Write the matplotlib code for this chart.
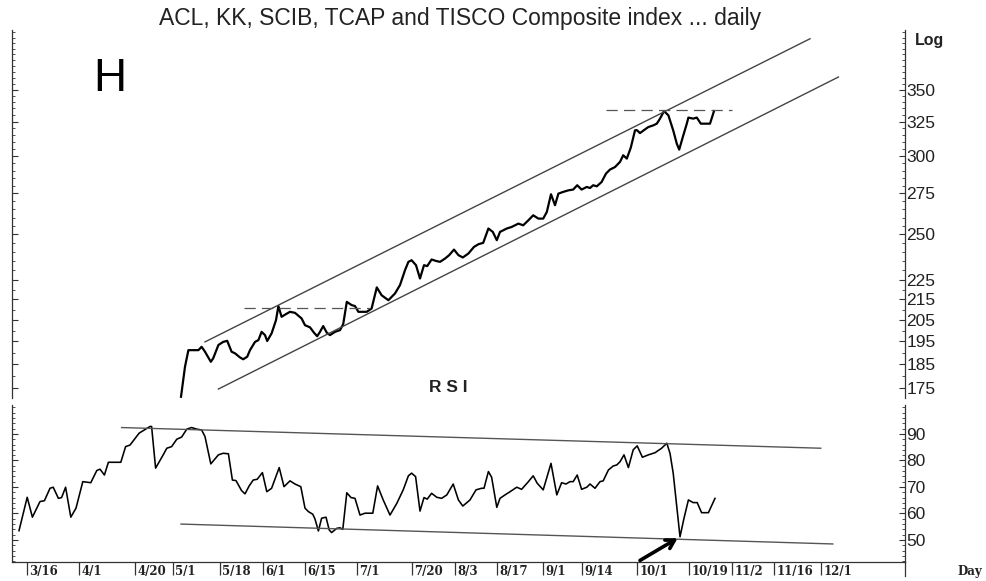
import matplotlib
matplotlib.use("Agg")
import matplotlib.pyplot as plt
from matplotlib.ticker import FixedLocator, NullFormatter

plt.rcParams['font.family'] = ['Liberation Sans', 'DejaVu Sans']

# trading-day index on the x axis (shared by both panels)
date_pos = [3.75, 16.75, 30.75, 40.25, 52.0, 62.75, 73.25, 86.25, 100.0, 110.75,
            121.25, 132.75, 142.5, 156.25, 169.25, 180.0, 190.5, 202.25]
date_labels = ['3/16', '4/1', '4/20', '5/1', '5/18', '6/1', '6/15', '7/1', '7/20', '8/3',
               '8/17', '9/1', '9/14', '10/1', '10/19', '11/2', '11/16', '12/1']

# composite index (log scale)
price_day = [42.25, 43.25, 44.1, 45.75, 46.6, 47.4, 48.25, 49.7, 50.3, 51.6,
             52.8, 53.8, 54.9, 55.75, 57.0, 57.8, 58.8, 59.5, 60.75, 61.6,
             62.4, 63.25, 63.8, 64.9, 66.0, 66.6, 67.4, 68.5, 69.5, 70.75,
             72.4, 73.25, 74.5, 75.5, 76.3, 77.0, 77.8, 78.7, 79.5, 80.75,
             82.0, 82.8, 83.7, 84.9, 85.75, 86.6, 88.7, 89.9, 91.2, 92.4,
             94.1, 95.75, 97.0, 98.25, 99.1, 99.9, 101.0, 102.0, 103.0, 103.8,
             104.9, 106.0, 107.0, 108.25, 109.3, 110.5, 111.6, 112.7, 114.1, 115.5,
             116.6, 117.8, 119.1, 120.2, 121.2, 122.0, 123.7, 124.9, 126.6, 127.8,
             129.1, 130.3, 131.6, 132.8, 133.7, 134.75, 135.75, 136.6, 137.8, 139.1,
             140.3, 141.3, 142.4, 143.7, 144.5, 145.3, 146.2, 147.4, 148.5, 149.5,
             150.75, 152.0, 152.8, 153.7, 154.7, 155.75, 156.2, 157.0, 158.0, 159.1,
             160.3, 161.2, 162.0, 163.0, 164.1, 165.3, 166.2, 166.8, 167.7, 168.7,
             169.1, 170.3, 171.2, 172.2, 173.25, 174.5, 175.5]
price = [171.5, 183.9, 191.1, 191.1, 191.1, 192.6, 190.4, 186.0, 187.5, 193.4,
         194.8, 195.3, 190.4, 189.7, 187.9, 187.1, 188.2, 191.1, 194.8, 195.6,
         199.4, 197.9, 195.2, 198.7, 204.9, 211.7, 206.5, 207.8, 208.9, 208.4,
         205.7, 202.5, 201.5, 199.0, 197.4, 199.4, 202.1, 199.0, 197.9, 199.4,
         200.2, 203.0, 213.8, 212.2, 211.7, 208.9, 208.9, 210.5, 221.1, 217.1,
         214.6, 218.0, 222.3, 230.1, 234.6, 235.5, 232.8, 225.7, 232.8, 232.3,
         235.9, 235.1, 234.6, 236.4, 238.3, 241.4, 238.3, 237.0, 239.2, 242.9,
         244.4, 245.2, 253.5, 251.5, 246.7, 251.5, 253.5, 254.4, 256.4, 255.4,
         258.4, 261.4, 259.4, 259.4, 263.4, 274.5, 267.6, 274.9, 276.0, 277.0,
         277.5, 280.3, 277.5, 279.2, 278.5, 280.3, 279.6, 282.4, 288.0, 290.7,
         292.4, 295.9, 300.5, 298.2, 305.9, 318.4, 318.6, 316.4, 318.6, 320.9,
         322.1, 323.4, 327.2, 333.0, 329.7, 318.4, 308.7, 304.5, 313.5, 323.4,
         328.0, 327.2, 328.0, 323.4, 323.4, 323.4, 333.0]

# trend channel and resistance levels
chan_top_day = [48.25, 199.5]
chan_top = [194.8, 393.9]
chan_bot_day = [51.6, 206.6]
chan_bot = [174.6, 360.4]
res1_day = [58.0, 89.5]
res1 = [211.0, 211.0]
res2_day = [148.5, 180.0]
res2 = [333.5, 333.5]
price_ticks = [175, 185, 195, 205, 215, 225, 250, 275, 300, 325, 350]

# RSI
rsi_day = [1.75, 3.8, 5.1, 7.0, 8.1, 9.5, 10.3, 11.6, 12.4, 13.4,
           14.7, 16.0, 17.7, 19.7, 21.2, 22.0, 23.1, 24.1, 27.2, 28.4,
           29.5, 31.8, 34.5, 34.9, 35.9, 37.8, 38.7, 39.9, 41.2, 42.4,
           43.7, 44.9, 46.2, 47.4, 48.25, 49.7, 51.6, 52.8, 54.1, 55.1,
           56.0, 57.4, 58.25, 59.3, 60.3, 61.3, 62.6, 63.7, 64.9, 66.8,
           68.0, 69.5, 70.75, 72.2, 73.25, 74.1, 75.2, 75.75, 76.6, 77.4,
           78.5, 79.3, 79.9, 81.2, 82.0, 82.7, 83.7, 84.75, 85.75, 87.0,
           88.25, 90.2, 91.4, 92.8, 94.5, 96.2, 97.8, 99.1, 99.9, 100.9,
           102.0, 103.0, 103.8, 104.9, 106.2, 107.4, 108.7, 110.3, 111.6, 112.7,
           114.5, 116.0, 117.4, 118.0, 119.1, 119.9, 121.2, 122.0, 123.25, 124.5,
           126.2, 127.4, 129.1, 130.3, 131.3, 132.8, 134.75, 136.2, 137.4, 138.5,
           139.5, 140.3, 141.3, 142.4, 143.7, 144.5, 145.75, 147.0, 147.8, 149.1,
           150.3, 151.2, 152.0, 153.0, 154.1, 155.3, 156.3, 157.6, 159.1, 160.75,
           162.4, 163.7, 164.5, 165.3, 166.2, 167.0, 168.0, 169.1, 170.3, 171.3,
           172.4, 174.1, 175.75]
rsi = [53.5, 66.1, 58.6, 64.5, 64.8, 69.5, 69.9, 65.7, 66.0, 69.9,
       58.6, 62.0, 72.0, 71.6, 76.2, 76.7, 74.5, 79.3, 79.3, 85.2,
       85.8, 90.3, 92.8, 92.8, 77.1, 82.1, 84.6, 85.2, 88.0, 88.8,
       91.8, 92.4, 91.8, 91.5, 89.0, 78.7, 82.1, 82.7, 82.5, 72.6,
       72.4, 68.6, 67.4, 70.4, 72.6, 72.9, 75.4, 68.2, 69.5, 77.3,
       70.1, 72.3, 71.1, 70.1, 62.0, 60.7, 59.7, 57.9, 53.4, 58.2,
       58.6, 53.8, 52.8, 54.4, 54.6, 54.0, 67.8, 66.0, 65.7, 59.4,
       60.1, 60.1, 70.4, 65.1, 59.4, 63.8, 68.9, 74.2, 75.2, 73.9,
       60.9, 66.0, 65.4, 67.6, 66.1, 65.7, 67.0, 71.1, 65.1, 62.8,
       65.1, 68.9, 69.5, 69.5, 75.8, 73.7, 62.3, 65.7, 67.0, 68.2,
       69.9, 69.1, 72.0, 74.2, 71.4, 68.9, 78.9, 67.0, 71.6, 71.1,
       72.0, 72.0, 74.5, 69.1, 69.9, 71.1, 69.5, 72.0, 72.3, 76.4,
       77.9, 78.3, 79.5, 82.1, 77.3, 84.0, 85.5, 81.2, 82.1, 82.9,
       84.6, 86.5, 82.7, 75.2, 62.6, 51.2, 58.2, 65.1, 64.1, 64.1,
       60.3, 60.3, 65.7]
rsi_top_day = [27.4, 202.2]
rsi_top = [92.4, 84.6]
rsi_bot_day = [42.25, 205.2]
rsi_bot = [56.0, 48.5]
rsi_ticks = [50, 60, 70, 80, 90]

W, H = 987, 581
fig = plt.figure(figsize=(W / 100, H / 100), dpi=100)
fig.patch.set_facecolor('white')

def box(x0, y0, x1, y1):
    return [x0 / W, 1 - y1 / H, (x1 - x0) / W, (y1 - y0) / H]

ax = fig.add_axes(box(12, 30, 905, 398))
ax2 = fig.add_axes(box(12, 405, 905, 562))
xlim = (0, 223.25)

# ---- price panel
ax.set_yscale('log')
ax.plot(price_day, price, color='black', lw=1.6)
ax.plot(chan_top_day, chan_top, color='#444444', lw=1.0)
ax.plot(chan_bot_day, chan_bot, color='#444444', lw=1.0)
ax.plot(res1_day, res1, color='#555555', lw=0.9, dashes=(9, 5))
ax.plot(res2_day, res2, color='#555555', lw=0.9, dashes=(9, 5))
ax.set_xlim(*xlim)
ax.set_ylim(171, 402)
ax.yaxis.set_major_locator(FixedLocator(price_ticks))
ax.yaxis.set_major_formatter(plt.FixedFormatter([str(t) for t in price_ticks]))
ax.yaxis.set_minor_locator(FixedLocator(list(range(170, 405, 5))))
ax.yaxis.set_minor_formatter(NullFormatter())
ax.tick_params(axis='y', which='both', left=True, right=True, labelleft=False,
               labelright=True, direction='in', labelsize=12.5, pad=1, color='#333333',
               labelcolor='#222222')
ax.tick_params(axis='y', which='major', length=4, width=0.8)
ax.tick_params(axis='y', which='minor', length=2.5, width=0.6)
ax.set_xticks([])
for s in ['top', 'bottom']:
    ax.spines[s].set_visible(False)
for s in ['left', 'right']:
    ax.spines[s].set_color('#333333')
    ax.spines[s].set_linewidth(0.9)

# ---- RSI panel
ax2.plot(rsi_day, rsi, color='black', lw=1.15)
ax2.plot(rsi_top_day, rsi_top, color='#555555', lw=1.0)
ax2.plot(rsi_bot_day, rsi_bot, color='#555555', lw=1.0)
ax2.annotate('', xy=(rsi_day[rsi.index(min(rsi[120:]))], min(rsi[120:])),
             xytext=(157.0, 42.3),
             arrowprops=dict(arrowstyle='->,head_length=0.6,head_width=0.35',
                             lw=2.6, color='black', shrinkA=0, shrinkB=2))
ax2.set_xlim(*xlim)
ax2.set_ylim(41.7, 100.9)
ax2.yaxis.set_major_locator(FixedLocator(rsi_ticks))
ax2.yaxis.set_minor_locator(FixedLocator(list(range(42, 101, 2))))
ax2.tick_params(axis='y', which='both', left=True, right=True, labelleft=False,
                labelright=True, direction='in', labelsize=12.5, pad=1, color='#333333',
                labelcolor='#222222')
ax2.tick_params(axis='y', which='major', length=4, width=0.8)
ax2.tick_params(axis='y', which='minor', length=2.5, width=0.6)
ax2.set_xticks(date_pos)
ax2.set_xticklabels([])
ax2.tick_params(axis='x', direction='out', length=9, width=0.9, color='#333333')
ax2.spines['top'].set_visible(False)
for s in ['left', 'right', 'bottom']:
    ax2.spines[s].set_color('#333333')
    ax2.spines[s].set_linewidth(0.9)
for p, lab in zip(date_pos, date_labels):
    ax2.annotate(lab, xy=(p, 0), xycoords=('data', 'axes fraction'),
                 xytext=(1.5, -2.5), textcoords='offset points', ha='left', va='top',
                 fontsize=8.5, family='DejaVu Serif', fontweight='bold', color='#222222')

# right axis runs down through the date strip
fig.add_artist(plt.Line2D([905 / W, 905 / W], [1 - 562 / H, 1 - 576 / H],
                          color='#333333', lw=0.9))

fig.text(460 / W, 1 - 19 / H, 'ACL, KK, SCIB, TCAP and TISCO Composite index ... daily',
         ha='center', va='center', fontsize=16.5, color='#222222')
fig.text(110 / W, 1 - 79 / H, 'H', ha='center', va='center', fontsize=33, color='black')
fig.text(448 / W, 1 - 388 / H, 'R S I', ha='center', va='center', fontsize=12.5,
         fontweight='bold', color='#222222')
fig.text(930 / W, 1 - 40 / H, 'Log', ha='center', va='center', fontsize=11.5,
         fontweight='bold', color='#222222')
fig.text(970 / W, 1 - 571 / H, 'Day', ha='center', va='center', fontsize=8.5,
         family='DejaVu Serif', fontweight='bold', color='#222222')

fig.savefig('out.png', dpi=100, facecolor='white')
